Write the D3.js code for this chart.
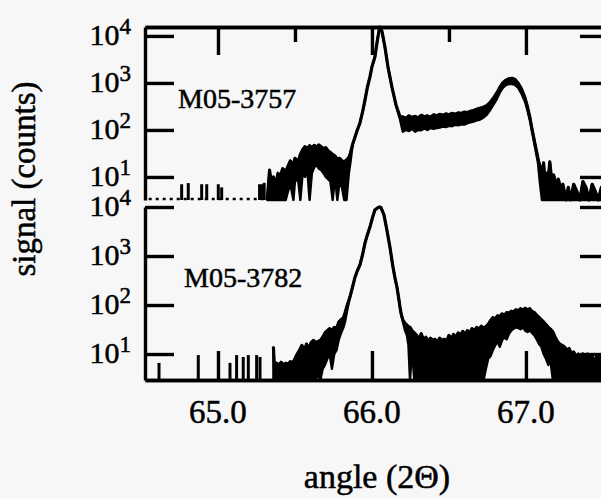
<!DOCTYPE html>
<html>
<head>
<meta charset="utf-8">
<script src="https://cdn.jsdelivr.net/npm/d3@7"></script>
<style>
  body { margin: 0; background: #f7f7f7; }
  svg { display: block; background: #f7f7f7; }
  text { font-family: "Liberation Serif", "Times New Roman", serif; fill: #000; stroke: #000; stroke-width: 0.5px; }
</style>
</head>
<body>
<div id="chart"></div>
<script>
// tick values and labels
var yTicks = [10, 100, 1000, 10000];
var xMajor = [65, 66, 67];
var xMinor = [65.5, 66.5];
var xTickLabels = ["65.0", "66.0", "67.0"];

// sample names
var samples = ["M05-3757", "M05-3782"];

// scan M05-3757: [angle, max counts, min counts]
var scan3757 = [
  [65.32, 1, 1], [65.335, 14, 1], [65.345, 8, 1], [65.36, 10, 1], [65.375, 7, 1],
  [65.39, 12, 1], [65.40, 9, 1], [65.42, 15, 1], [65.44, 13, 3], [65.455, 17, 5],
  [65.47, 22, 7], [65.49, 18, 1], [65.50, 25, 8], [65.52, 21, 9], [65.535, 30, 1],
  [65.55, 38, 12], [65.565, 44, 10], [65.58, 40, 14], [65.595, 46, 1], [65.61, 42, 12],
  [65.625, 47, 16], [65.64, 43, 18], [65.655, 48, 15], [65.67, 44, 14], [65.685, 40, 12],
  [65.70, 42, 10], [65.715, 36, 9], [65.73, 33, 8], [65.745, 30, 1], [65.76, 28, 10],
  [65.775, 24, 1], [65.79, 25, 8], [65.805, 22, 6], [65.82, 21, 1], [65.835, 23, 1],
  [65.85, 26, 12], [65.86, 32, 20], [65.875, 50, 50], [65.89, 71, 71], [65.905, 100, 100],
  [65.922, 141, 141], [65.94, 250, 250], [65.955, 437, 437], [65.97, 800, 800],
  [65.987, 1350, 1350], [66.00, 2200, 2200], [66.019, 3550, 3550], [66.035, 8000, 8000],
  [66.05, 20000, 20000], [66.065, 12600, 12600], [66.084, 5900, 5900], [66.104, 2190, 2190],
  [66.13, 810, 810], [66.156, 340, 340], [66.182, 190, 170], [66.20, 190, 92],
  [66.22, 175, 100], [66.24, 200, 95], [66.26, 185, 105], [66.28, 195, 92], [66.30, 180, 100],
  [66.32, 205, 98], [66.34, 190, 108], [66.36, 200, 100], [66.38, 185, 110], [66.40, 210, 105],
  [66.42, 200, 110], [66.44, 215, 112], [66.46, 205, 118], [66.48, 220, 115], [66.50, 210, 122],
  [66.52, 225, 120], [66.54, 215, 128], [66.56, 230, 125], [66.58, 225, 132], [66.60, 240, 130],
  [66.62, 235, 140], [66.64, 250, 145], [66.66, 260, 150], [66.68, 275, 160], [66.70, 290, 165],
  [66.72, 300, 180], [66.745, 330, 210], [66.766, 380, 260], [66.79, 480, 350], [66.812, 620, 460],
  [66.83, 800, 620], [66.85, 1000, 790], [66.87, 1150, 900], [66.89, 1230, 950], [66.909, 1260, 960],
  [66.93, 1180, 900], [66.948, 1000, 800], [66.97, 760, 600], [66.994, 480, 400], [67.01, 310, 260],
  [67.026, 182, 160], [67.042, 95, 85], [67.058, 52, 45], [67.078, 25, 20], [67.09, 17, 8],
  [67.104, 13, 1], [67.115, 20, 1], [67.123, 8, 1], [67.135, 12, 1], [67.145, 9, 1],
  [67.155, 21, 1], [67.165, 10, 1], [67.18, 11, 1], [67.195, 7, 1], [67.21, 9, 1],
  [67.225, 6, 1], [67.24, 7, 1], [67.26, 1, 1], [67.275, 6, 1], [67.29, 1, 1],
  [67.31, 7, 1], [67.33, 5, 1], [67.35, 1, 1], [67.37, 8, 1], [67.39, 6, 1],
  [67.41, 1, 1], [67.43, 7, 1], [67.45, 5, 1], [67.47, 1, 1], [67.49, 6, 1], [67.52, 1, 1]
];

// isolated counts on the empty low-angle side of M05-3757: [angle, counts]
var spikes3757 = [
  [64.764, 7], [64.807, 7.4], [64.894, 7], [64.927, 7], [65.002, 7],
  [65.024, 6], [65.27, 7], [65.285, 7], [65.30, 7.5]
];

// scan M05-3782: [angle, max counts, min counts]
var scan3782 = [
  [65.36, 13.8, 1], [65.37, 1, 1], [65.38, 6.5, 1], [65.395, 6, 1], [65.41, 6.8, 1],
  [65.425, 6, 1], [65.44, 6.5, 1], [65.455, 6.2, 1], [65.47, 7, 1], [65.485, 6.5, 1],
  [65.50, 8, 1], [65.515, 10, 1], [65.53, 12, 1], [65.545, 15, 1], [65.56, 11, 1],
  [65.575, 16, 1], [65.59, 13, 1], [65.605, 17, 1], [65.62, 19, 1], [65.635, 17, 1],
  [65.65, 18, 4], [65.665, 19, 1], [65.68, 22, 5], [65.695, 27, 6], [65.71, 30, 8],
  [65.725, 33, 10], [65.74, 29, 5], [65.755, 35, 10], [65.77, 33, 12], [65.785, 45, 20],
  [65.80, 50, 27], [65.815, 55, 35], [65.825, 69, 45], [65.84, 100, 80], [65.857, 145, 145],
  [65.875, 240, 240], [65.89, 370, 370], [65.905, 500, 500], [65.922, 660, 660],
  [65.94, 1100, 1100], [65.955, 1850, 1850], [65.97, 2700, 2700], [65.987, 3900, 3900],
  [66.003, 6000, 6000], [66.019, 8700, 8700], [66.04, 9800, 9800], [66.05, 10000, 10000],
  [66.058, 9800, 9800], [66.078, 6900, 6900], [66.097, 3400, 3400], [66.117, 1500, 1500],
  [66.136, 610, 610], [66.15, 350, 350], [66.162, 235, 235], [66.172, 150, 150],
  [66.182, 91, 91], [66.19, 65, 65], [66.201, 49, 45], [66.215, 42, 30], [66.227, 39, 24],
  [66.237, 36, 15], [66.247, 35, 1], [66.26, 30, 12], [66.275, 27, 1], [66.29, 24, 1],
  [66.305, 20, 1], [66.32, 26, 1], [66.335, 19, 1], [66.35, 22, 1], [66.365, 18, 1],
  [66.38, 21, 1], [66.395, 19, 1], [66.41, 20, 1], [66.425, 17, 1], [66.44, 21, 1],
  [66.455, 19, 1], [66.47, 20, 1], [66.485, 18, 1], [66.50, 24, 1], [66.515, 20, 1],
  [66.53, 25, 1], [66.545, 22, 1], [66.56, 27, 1], [66.575, 24, 1], [66.59, 29, 1],
  [66.605, 25, 1], [66.62, 30, 1], [66.635, 27, 1], [66.65, 33, 1], [66.665, 30, 1],
  [66.68, 35, 1], [66.695, 32, 1], [66.71, 37, 1], [66.725, 34, 1], [66.74, 36, 5],
  [66.755, 40, 8], [66.77, 48, 9], [66.785, 55, 12], [66.80, 52, 15], [66.815, 60, 18],
  [66.83, 58, 14], [66.845, 66, 19], [66.86, 62, 22], [66.875, 70, 20], [66.89, 68, 26],
  [66.905, 75, 30], [66.92, 72, 33], [66.935, 80, 35], [66.95, 76, 34], [66.965, 84, 32],
  [66.98, 78, 35], [66.995, 86, 30], [67.01, 80, 28], [67.025, 84, 30], [67.04, 74, 27],
  [67.055, 70, 24], [67.07, 62, 20], [67.085, 56, 16], [67.10, 50, 14], [67.115, 45, 10],
  [67.13, 40, 8], [67.145, 35, 6], [67.16, 32, 7], [67.175, 28, 1], [67.19, 22, 1],
  [67.205, 18, 1], [67.22, 16, 1], [67.235, 15, 1], [67.25, 14, 1], [67.265, 12, 1],
  [67.28, 13, 1], [67.295, 10, 1], [67.31, 11, 1], [67.325, 9, 1], [67.34, 10, 1],
  [67.355, 8, 1], [67.37, 10, 1], [67.385, 9, 1], [67.40, 10, 1], [67.415, 8, 1],
  [67.43, 9, 1], [67.445, 7, 1], [67.46, 9, 1], [67.475, 8, 1], [67.49, 9, 1], [67.51, 7, 1]
];

// isolated counts on the low-angle side of M05-3782
var spikes3782 = [
  [64.617, 6.6], [64.872, 9.5], [65.078, 6.6], [65.121, 9.5], [65.164, 8.7],
  [65.197, 9.5], [65.251, 9.5], [65.273, 8.7]
];

var width = 601, height = 499;

var svg = d3.select("#chart")
    .append("svg")
    .attr("width", width)
    .attr("height", height);

// shared x scale
var x = d3.scaleLinear()
    .domain([64.526, 67.546])
    .range([145, 610]);

// one log scale per panel
var yTop = d3.scaleLog()
    .domain([Math.pow(10, 0.51), Math.pow(10, 4.19)])
    .range([200, 27])
    .clamp(true);

var yBot = d3.scaleLog()
    .domain([Math.pow(10, 0.47), 10000])
    .range([380, 207])
    .clamp(true);

function thick(g) {
    g.selectAll("line, path").attr("stroke", "#000").attr("stroke-width", 3.4);
}

// scan: the band between min and max is filled black, outlined by the max trace
function drawScan(scan, y) {
    var band = d3.area()
        .x(function (d) { return x(d[0]); })
        .y0(function (d) { return y(d[2]); })
        .y1(function (d) { return y(d[1]); });
    svg.append("path")
        .attr("class", "band")
        .datum(scan)
        .attr("d", band)
        .style("fill", "#000")
        .style("stroke", "#000")
        .style("stroke-width", 2.4)
        .style("stroke-linejoin", "round");

    var top = d3.line()
        .x(function (d) { return x(d[0]); })
        .y(function (d) { return y(d[1]); });
    svg.append("path")
        .datum(scan)
        .attr("d", top)
        .style("fill", "none")
        .style("stroke", "#000")
        .style("stroke-width", 3.2)
        .style("stroke-linejoin", "round");
}

function drawSpikes(spikes, y) {
    svg.selectAll(null)
        .data(spikes)
        .enter()
        .append("line")
        .attr("x1", function (d) { return x(d[0]); })
        .attr("x2", function (d) { return x(d[0]); })
        .attr("y1", y.range()[0])
        .attr("y2", function (d) { return y(d[1]); })
        .attr("stroke", "#000")
        .attr("stroke-width", 3);
}

function yLabels(y) {
    yTicks.forEach(function (v) {
        var t = svg.append("text")
            .attr("x", 131)
            .attr("y", y(v) + 9)
            .attr("text-anchor", "end")
            .style("font-size", "30px");
        t.append("tspan").text("10");
        t.append("tspan")
            .attr("dy", -11)
            .style("font-size", "23px")
            .text(Math.round(Math.log10(v)));
    });
}

// ---- top panel ----
svg.append("g")
    .attr("transform", "translate(145,0)")
    .call(d3.axisLeft(yTop).tickValues(yTicks).tickSize(-29).tickSizeOuter(0).tickFormat(""))
    .call(thick);
svg.append("g")
    .attr("transform", "translate(610,0)")
    .call(d3.axisRight(yTop).tickValues(yTicks).tickSize(-30).tickSizeOuter(0).tickFormat(""))
    .call(thick);
svg.append("g")
    .attr("transform", "translate(0,27)")
    .call(d3.axisTop(x).tickValues(xMajor).tickSize(-28).tickSizeOuter(0).tickFormat(""))
    .call(thick);
svg.append("g")
    .attr("transform", "translate(0,27)")
    .call(d3.axisTop(x).tickValues(xMinor).tickSize(-15).tickSizeOuter(0).tickFormat(""))
    .call(thick);

// empty channels sit on the floor of the panel
svg.append("line")
    .attr("x1", x(64.55)).attr("x2", x(65.32))
    .attr("y1", 199).attr("y2", 199)
    .attr("stroke", "#000")
    .attr("stroke-width", 2.5)
    .attr("stroke-dasharray", "3,4");

drawSpikes(spikes3757, yTop);
drawScan(scan3757, yTop);
yLabels(yTop);

svg.append("text")
    .attr("x", 178).attr("y", 108)
    .style("font-size", "28px")
    .text(samples[0]);

// ---- bottom panel ----
svg.append("g")
    .attr("transform", "translate(145,0)")
    .call(d3.axisLeft(yBot).tickValues(yTicks).tickSize(-29).tickSizeOuter(0).tickFormat(""))
    .call(thick);
svg.append("g")
    .attr("transform", "translate(610,0)")
    .call(d3.axisRight(yBot).tickValues(yTicks).tickSize(-30).tickSizeOuter(0).tickFormat(""))
    .call(thick);
svg.append("g")
    .attr("transform", "translate(0,380)")
    .call(d3.axisBottom(x).tickValues(xMajor).tickSize(-29).tickSizeOuter(0).tickFormat(""))
    .call(thick);
svg.append("g")
    .attr("transform", "translate(0,380)")
    .call(d3.axisBottom(x).tickValues(xMinor).tickSize(-15).tickSizeOuter(0).tickFormat(""))
    .call(thick);

drawSpikes(spikes3782, yBot);
drawScan(scan3782, yBot);
yLabels(yBot);

svg.append("text")
    .attr("x", 184).attr("y", 287)
    .style("font-size", "28px")
    .text(samples[1]);

// x tick labels
svg.selectAll(".xlab")
    .data(xMajor)
    .enter()
    .append("text")
    .attr("class", "xlab")
    .attr("x", function (d) { return x(d); })
    .attr("y", 423)
    .attr("text-anchor", "middle")
    .style("font-size", "33px")
    .text(function (d, i) { return xTickLabels[i]; });

// axis titles
svg.append("text")
    .attr("x", 377)
    .attr("y", 488)
    .attr("text-anchor", "middle")
    .style("font-size", "34px")
    .text("angle (2\u0398)");

svg.append("text")
    .attr("transform", "translate(35,179) rotate(-90)")
    .attr("text-anchor", "middle")
    .style("font-size", "33px")
    .text("signal (counts)");
</script>
</body>
</html>
